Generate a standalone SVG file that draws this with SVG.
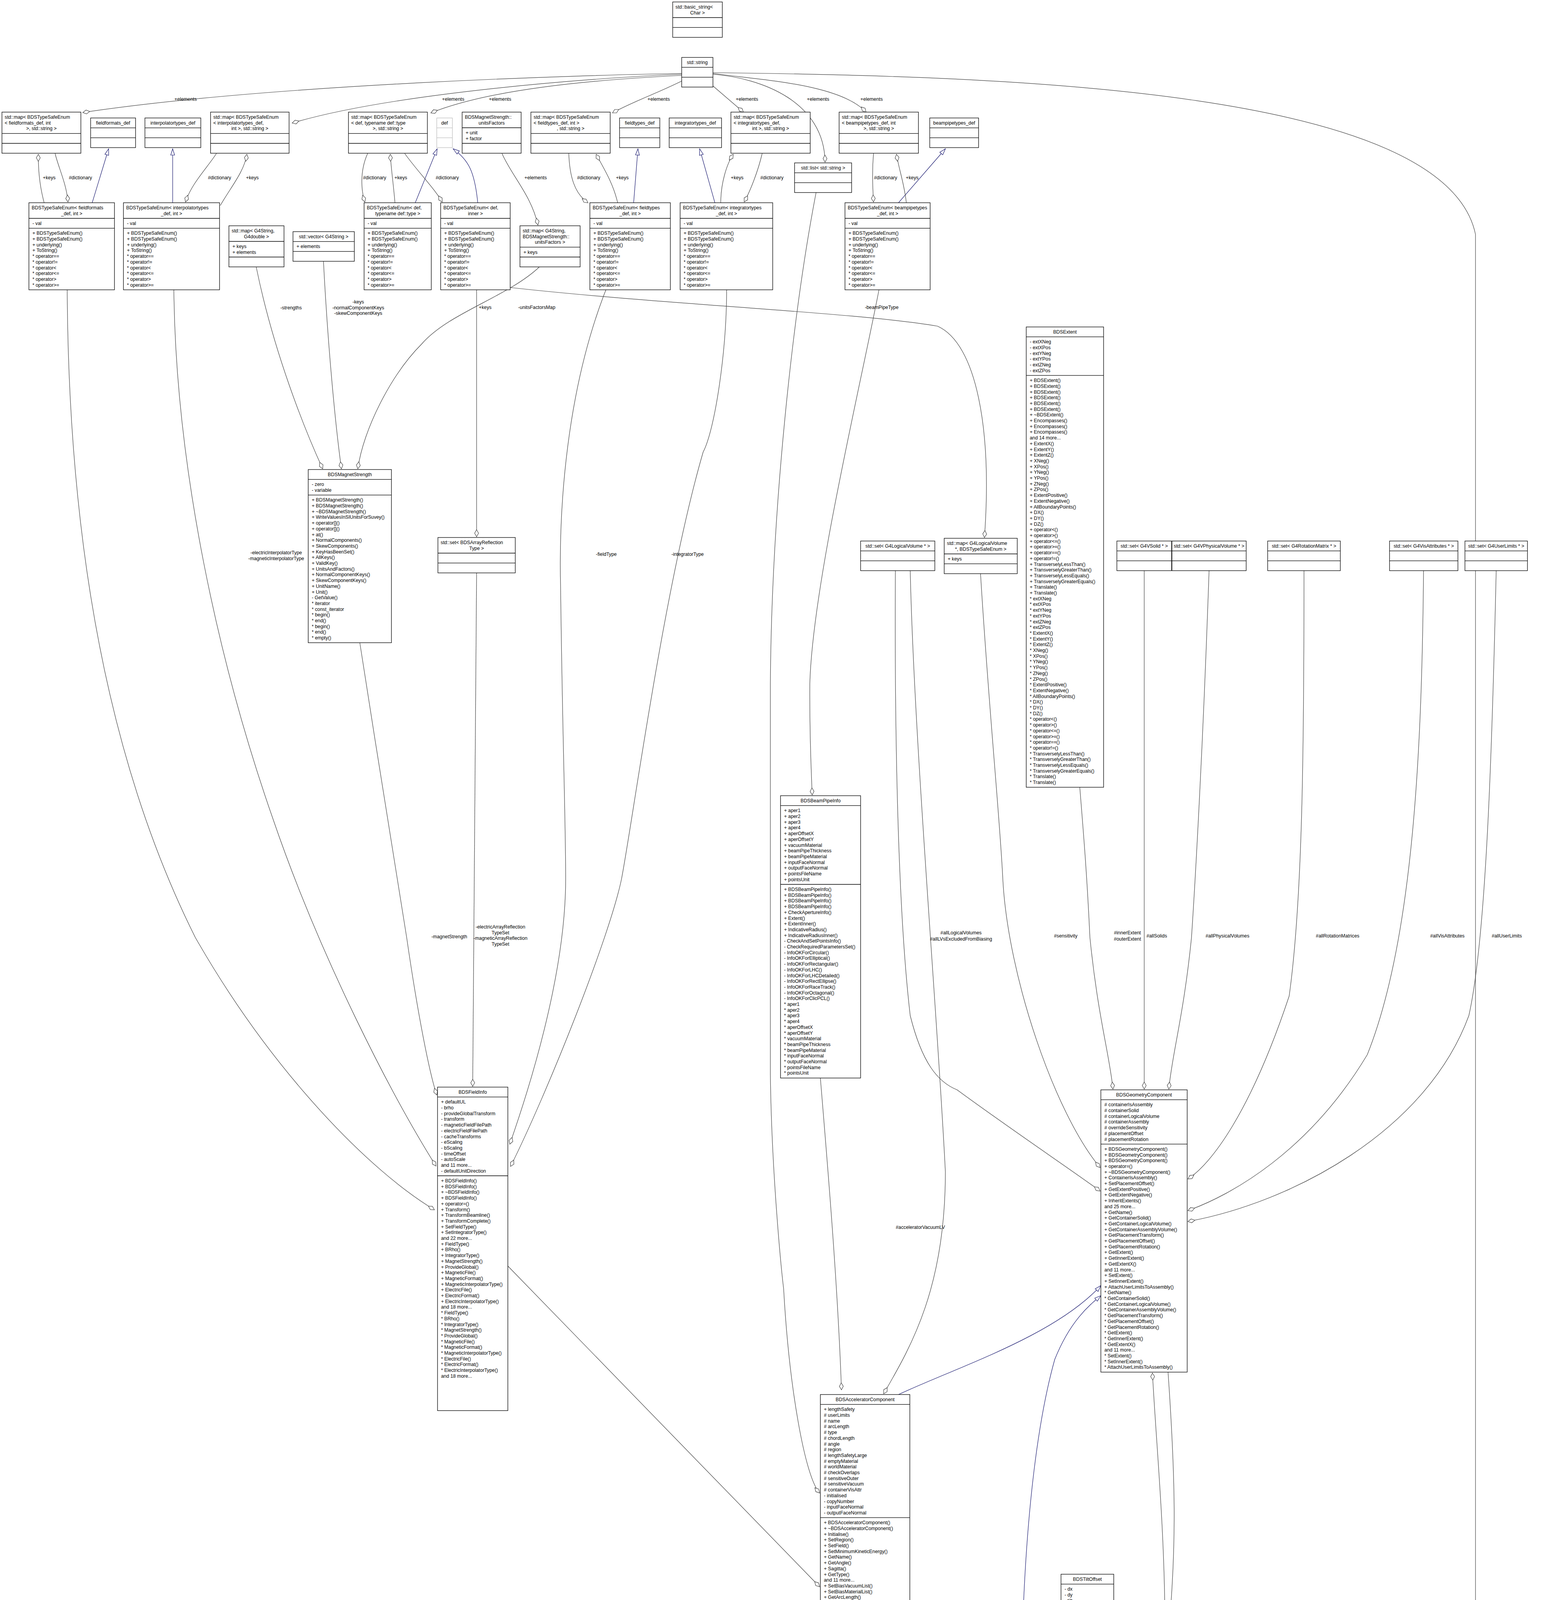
<svg xmlns="http://www.w3.org/2000/svg" width="4001" height="6897" viewBox="0 0 4001 6897">
<defs>
<style>
.n rect{fill:#fff;stroke:#000;stroke-width:1.3}
.n path{fill:none;stroke:#000;stroke-width:1.3}
.g rect{fill:#bfbfbf}
.gr rect,.gr path{stroke:#bfbfbf}
text{font-family:"Liberation Sans",Arial,Helvetica,sans-serif;font-size:12.3px;fill:#000}
.m{text-anchor:middle}
.e{fill:none;stroke:#404040;stroke-width:1.2;marker-end:url(#dia)}
.i{fill:none;stroke:#191970;stroke-width:1.2;marker-end:url(#tri)}
</style>
<marker id="dia" markerUnits="userSpaceOnUse" markerWidth="20" markerHeight="12" viewBox="0 0 20 12" refX="19" refY="6" orient="auto"><path d="M1,6 L10,1 L19,6 L10,11 Z" fill="#fff" stroke="#404040" stroke-width="1.2"/></marker>
<marker id="tri" markerUnits="userSpaceOnUse" markerWidth="18" markerHeight="12" viewBox="0 0 18 12" refX="17" refY="6" orient="auto"><path d="M1,1 L17,6 L1,11 Z" fill="#fff" stroke="#191970" stroke-width="1.2"/></marker>
</defs>
<rect width="4001" height="6897" fill="#fff"/>

<g id="edges">
<path class="e" d="M1745,188 C1500,192 700,215 212,288"/>
<path class="e" d="M1745,190 C1500,200 1000,240 748,315"/>
<path class="e" d="M1745,193 C1500,205 1250,230 1103,289"/>
<path class="e" d="M1748,206 C1680,240 1620,260 1568,289"/>
<path class="e" d="M1825,220 L1903,287"/>
<path class="e" d="M1825,188 C1950,205 2150,215 2217,287"/>
<path class="e" d="M1825,190 C1950,200 2110,260 2112,415"/>
<path class="e" d="M1825,186 C2600,195 3700,230 3777,600 L3777,6000 C3777,6400 3450,6530 3384,6600"/>
<path class="i" d="M236,519 L278,381"/>
<path class="i" d="M442,519 L442,381"/>
<path class="i" d="M1063,519 L1119,381"/>
<path class="i" d="M1223,519 C1215,440 1200,410 1160,381"/>
<path class="i" d="M1622,519 L1633,381"/>
<path class="i" d="M1830,519 L1791,381"/>
<path class="i" d="M2300,519 L2420,381"/>
<path class="i" d="M3300,5610 L3380,5499"/>
<path class="i" d="M2300,3570 C2450,3500 2700,3420 2818,3291"/>
<path class="i" d="M2628,4814 C2600,4400 2610,3800 2700,3480 C2740,3380 2790,3340 2818,3317"/>
<path class="i" d="M2235,5635 C2245,5300 2268,5000 2266,4795"/>
<path class="e" d="M113,519 C100,470 98,430 98,395"/>
<path class="e" d="M141,393 C150,430 170,470 174,517"/>
<path class="e" d="M564,526 C590,480 625,440 632,395"/>
<path class="e" d="M554,393 C530,430 490,470 475,517"/>
<path class="e" d="M941,393 C920,440 925,490 934,517"/>
<path class="e" d="M1011,519 C1008,480 1001,430 999,395"/>
<path class="e" d="M1036,393 C1070,440 1110,480 1132,517"/>
<path class="e" d="M1456,393 C1458,450 1470,495 1505,519"/>
<path class="e" d="M1581,519 C1570,470 1545,430 1526,395"/>
<path class="e" d="M1845,519 C1845,470 1860,420 1877,395"/>
<path class="e" d="M1951,393 C1940,440 1920,490 1905,517"/>
<path class="e" d="M2236,393 C2232,440 2234,480 2236,517"/>
<path class="e" d="M2320,519 C2315,470 2300,430 2295,395"/>
<path class="e" d="M3255,5833 C3260,6200 3270,6500 3288,6600"/>
<path class="e" d="M3304,6602 C3290,6300 3260,6000 3237,5835"/>
<path class="e" d="M1285,393 C1310,450 1360,500 1377,576"/>
<path class="e" d="M656,684 C700,900 780,1100 826,1200"/>
<path class="e" d="M828,669 C840,900 860,1100 874,1200"/>
<path class="e" d="M1381,683 C1300,760 1150,800 1080,880 C1000,960 930,1100 916,1200"/>
<path class="e" d="M1220,742 L1220,1374"/>
<path class="e" d="M1306,736 C1700,780 2200,800 2400,835 C2500,880 2540,1100 2520,1376"/>
<path class="e" d="M1220,1467 L1210,2781"/>
<path class="e" d="M921,1645 C960,1900 1010,2200 1041,2400 C1070,2600 1100,2750 1118,2803"/>
<path class="e" d="M445,742 C450,1200 560,1700 700,2100 C820,2450 1000,2800 1116,2985"/>
<path class="e" d="M172,742 C175,1300 250,1900 500,2400 C700,2750 950,3000 1112,3097"/>
<path class="e" d="M1551,742 C1450,1000 1430,1300 1435,1503 C1440,1900 1448,2100 1448,2250 C1448,2500 1350,2800 1305,2929"/>
<path class="e" d="M1860,742 C1860,900 1830,1100 1800,1157 C1700,1500 1620,2100 1591,2250 C1560,2400 1400,2800 1307,2986"/>
<path class="e" d="M2250,742 C2200,1000 2080,1500 2073,1750 C2072,1900 2078,2000 2079,2035"/>
<path class="e" d="M2089,493 C2030,800 1975,1300 1972,1750 L1972,2750 C1975,3000 2000,3250 2006,3300 C2020,3550 2060,3780 2098,3822"/>
<path class="e" d="M2100,2760 C2120,3000 2145,3300 2154,3558"/>
<path class="e" d="M1300,3241 L2098,4062"/>
<path class="e" d="M2510,1469 C2530,1800 2560,2100 2567,2250 C2580,2500 2700,2850 2816,2989"/>
<path class="e" d="M2764,2015 C2775,2150 2783,2250 2790,2400 C2810,2600 2840,2700 2849,2788"/>
<path class="e" d="M2292,1461 C2290,1800 2295,2300 2330,2600 C2360,2720 2400,2770 2450,2790 C2600,2900 2750,3000 2816,3049"/>
<path class="e" d="M2330,1461 C2340,1900 2400,2600 2420,3000 C2420,3300 2330,3450 2262,3568"/>
<path class="e" d="M2929,1461 L2929,2788"/>
<path class="e" d="M3095,1461 C3080,1900 3060,2250 3050,2400 C3030,2600 3000,2700 2992,2788"/>
<path class="e" d="M3338,1461 C3338,1900 3335,2300 3300,2550 C3200,2850 3100,2980 3041,3018"/>
<path class="e" d="M3644,1461 C3640,1900 3620,2400 3500,2700 C3350,2950 3150,3060 3041,3099"/>
<path class="e" d="M3830,1461 C3820,1900 3805,2400 3760,2600 C3650,2900 3300,3080 3041,3127"/>
<path class="e" d="M2288,4792 C2350,4900 2450,5000 2560,5060 C2620,5090 2670,5105 2696,5116"/>
<path class="e" d="M2787,4326 C2795,4700 2805,4950 2807,5105"/>
<path class="e" d="M2200,5635 C2180,5300 2150,5000 2148,4795"/>
<path class="e" d="M2982,4140 C2980,3900 2960,3700 2950,3515"/>
<path class="e" d="M2990,3513 C3010,3800 3010,3950 2995,4138"/>
<path class="e" d="M2625,5081 C2600,5400 2590,5900 2600,6100 C2615,6300 2640,6380 2646,6417"/>
<path class="e" d="M2742,6344 L2738,6417"/>
<path class="e" d="M2795,6344 C2810,6400 2900,6450 2933,6578"/>
<path class="e" d="M2941,6580 C2935,6500 2925,6420 2916,6346"/>
<path class="e" d="M3215,5833 C3150,6100 3050,6350 2984,6400 C2930,6415 2885,6412 2859,6423"/>
<path class="e" d="M3222,5833 C3170,6100 3100,6350 3002,6578"/>
</g>

<g id="labels">
<text class="m" x="475" y="258">+elements</text>
<text class="m" x="1160" y="258">+elements</text>
<text class="m" x="1280" y="258">+elements</text>
<text class="m" x="1686" y="258">+elements</text>
<text class="m" x="1912" y="258">+elements</text>
<text class="m" x="2094" y="258">+elements</text>
<text class="m" x="2231" y="258">+elements</text>
<text class="m" x="126" y="459">+keys</text>
<text class="m" x="206" y="459">#dictionary</text>
<text class="m" x="562" y="459">#dictionary</text>
<text class="m" x="646" y="459">+keys</text>
<text class="m" x="959" y="459">#dictionary</text>
<text class="m" x="1026" y="459">+keys</text>
<text class="m" x="1145" y="459">#dictionary</text>
<text class="m" x="1371" y="459">+elements</text>
<text class="m" x="1507" y="459">#dictionary</text>
<text class="m" x="1593" y="459">+keys</text>
<text class="m" x="1887" y="459">+keys</text>
<text class="m" x="1976" y="459">#dictionary</text>
<text class="m" x="2267" y="459">#dictionary</text>
<text class="m" x="2335" y="459">+keys</text>
<text class="m" x="745" y="792">-strengths</text>
<text class="m" x="917" y="777"><tspan x="917" dy="0">-keys</tspan><tspan x="917" dy="14.7">-normalComponentKeys</tspan><tspan x="917" dy="14.7">-skewComponentKeys</tspan></text>
<text class="m" x="1242" y="791">+keys</text>
<text class="m" x="1374" y="791">-unitsFactorsMap</text>
<text class="m" x="2257" y="791">-beamPipeType</text>
<text class="m" x="1552" y="1423">-fieldType</text>
<text class="m" x="1760" y="1423">-integratorType</text>
<text class="m" x="707" y="1419"><tspan x="707" dy="0">-electricInterpolatorType</tspan><tspan x="707" dy="14.7">-magneticInterpolatorType</tspan></text>
<text class="m" x="1281" y="2377"><tspan x="1281" dy="0">-electricArrayReflection</tspan><tspan x="1281" dy="14.7">TypeSet</tspan><tspan x="1281" dy="14.7">-magneticArrayReflection</tspan><tspan x="1281" dy="14.7">TypeSet</tspan></text>
<text class="m" x="1150" y="2402">-magnetStrength</text>
<text class="m" x="2460" y="2392"><tspan x="2460" dy="0">#allLogicalVolumes</tspan><tspan x="2460" dy="15.5">#allLVsExcludedFromBiasing</tspan></text>
<text class="m" x="2728" y="2400">#sensitivity</text>
<text class="m" x="2886" y="2392"><tspan x="2886" dy="0">#innerExtent</tspan><tspan x="2886" dy="15.5">#outerExtent</tspan></text>
<text class="m" x="2961" y="2400">#allSolids</text>
<text class="m" x="3142" y="2400">#allPhysicalVolumes</text>
<text class="m" x="3424" y="2400">#allRotationMatrices</text>
<text class="m" x="3705" y="2400">#allVisAttributes</text>
<text class="m" x="3857" y="2400">#allUserLimits</text>
<text x="2419" y="3146" text-anchor="end">#acceleratorVacuumLV</text>
<text class="m" x="2511" y="4950">-component</text>
<text class="m" x="2837" y="4950">-tiltOffset</text>
<text class="m" x="2218" y="4942"><tspan x="2218" dy="0">#endPieceAfter</tspan><tspan x="2218" dy="14.7">#endPieceBefore</tspan></text>
<text class="m" x="2660" y="5725">-sampler</text>
<text class="m" x="2770" y="6383">-element</text>
<text class="m" x="2868" y="6376"><tspan x="2868" dy="0">+finishElement</tspan><tspan x="2868" dy="14.7">+startElement</tspan></text>
<text class="m" x="2960" y="6383">-samplerInfo</text>
<text class="m" x="3048" y="6383">-type</text>
<text class="m" x="3141" y="6383">+samplerType</text>
<text class="m" x="3258" y="6383">+keys</text>
<text class="m" x="3319" y="6383">#dictionary</text>
<text class="m" x="3800" y="6383">+elements</text>
</g>

<g id="n_basic_string" class="n"><rect x="1722" y="5" width="127" height="90.6"/><path d="M1722 45h127M1722 70.3h127"/><text x="1729" y="22">std::basic_string&lt;</text><text class="m" x="1785.5" y="36.7">Char &gt;</text></g>
<g id="n_string" class="n"><rect x="1745" y="147" width="80" height="75.9"/><path d="M1745 172.3h80M1745 197.6h80"/><text class="m" x="1785" y="164">std::string</text></g>

<g id="n_map_fieldformats" class="n"><rect x="5" y="287" width="202" height="105.3"/><path d="M5 341.7h202M5 367h202"/><text x="12" y="304">std::map&lt; BDSTypeSafeEnum</text><text x="12" y="318.7">&lt; fieldformats_def, int</text><text class="m" x="106" y="333.4">&gt;, std::string &gt;</text></g>
<g id="n_fieldformats_def" class="n"><rect x="232" y="302" width="115" height="75.9"/><path d="M232 327.3h115M232 352.6h115"/><text class="m" x="289.5" y="319">fieldformats_def</text></g>
<g id="n_interpolatortypes_def" class="n"><rect x="371" y="302" width="143" height="75.9"/><path d="M371 327.3h143M371 352.6h143"/><text class="m" x="442.5" y="319">interpolatortypes_def</text></g>
<g id="n_map_interpolatortypes" class="n"><rect x="539" y="287" width="201" height="105.3"/><path d="M539 341.7h201M539 367h201"/><text x="546" y="304">std::map&lt; BDSTypeSafeEnum</text><text x="546" y="318.7">&lt; interpolatortypes_def,</text><text class="m" x="639.5" y="333.4">int &gt;, std::string &gt;</text></g>
<g id="n_map_def" class="n"><rect x="892" y="287" width="202" height="105.3"/><path d="M892 341.7h202M892 367h202"/><text x="899" y="304">std::map&lt; BDSTypeSafeEnum</text><text x="899" y="318.7">&lt; def, typename def::type</text><text class="m" x="993" y="333.4">&gt;, std::string &gt;</text></g>
<g id="n_def" class="n gr"><rect x="1118" y="302" width="40" height="75.9"/><path d="M1118 327.3h40M1118 352.6h40"/><text class="m" x="1138" y="319">def</text></g>
<g id="n_unitsFactors" class="n"><rect x="1183" y="287" width="151" height="105.3"/><path d="M1183 327h151M1183 367h151"/><text x="1190" y="304">BDSMagnetStrength::</text><text class="m" x="1258.5" y="318.7">unitsFactors</text><text x="1192" y="344"><tspan x="1192" dy="0">+ unit</tspan><tspan x="1192" dy="14.7">+ factor</tspan></text></g>
<g id="n_map_fieldtypes" class="n"><rect x="1359" y="287" width="203" height="105.3"/><path d="M1359 341.7h203M1359 367h203"/><text x="1366" y="304">std::map&lt; BDSTypeSafeEnum</text><text x="1366" y="318.7">&lt; fieldtypes_def, int &gt;</text><text class="m" x="1460.5" y="333.4">, std::string &gt;</text></g>
<g id="n_fieldtypes_def" class="n"><rect x="1586" y="302" width="103" height="75.9"/><path d="M1586 327.3h103M1586 352.6h103"/><text class="m" x="1637.5" y="319">fieldtypes_def</text></g>
<g id="n_integratortypes_def" class="n"><rect x="1713" y="302" width="134" height="75.9"/><path d="M1713 327.3h134M1713 352.6h134"/><text class="m" x="1780" y="319">integratortypes_def</text></g>
<g id="n_map_integratortypes" class="n"><rect x="1871" y="287" width="203" height="105.3"/><path d="M1871 341.7h203M1871 367h203"/><text x="1878" y="304">std::map&lt; BDSTypeSafeEnum</text><text x="1878" y="318.7">&lt; integratortypes_def,</text><text class="m" x="1972.5" y="333.4">int &gt;, std::string &gt;</text></g>
<g id="n_map_beampipetypes" class="n"><rect x="2148" y="287" width="203" height="105.3"/><path d="M2148 341.7h203M2148 367h203"/><text x="2155" y="304">std::map&lt; BDSTypeSafeEnum</text><text x="2155" y="318.7">&lt; beampipetypes_def, int</text><text class="m" x="2249.5" y="333.4">&gt;, std::string &gt;</text></g>
<g id="n_beampipetypes_def" class="n"><rect x="2380" y="302" width="125" height="75.9"/><path d="M2380 327.3h125M2380 352.6h125"/><text class="m" x="2442.5" y="319">beampipetypes_def</text></g>
<g id="n_list_string" class="n"><rect x="2034" y="417" width="146" height="75.9"/><path d="M2034 442.3h146M2034 467.6h146"/><text class="m" x="2107" y="434">std::list&lt; std::string &gt;</text></g>

<g id="n_tse_fieldformats" class="n"><rect x="74" y="519" width="219" height="222.9"/><path d="M74 559h219M74 584.3h219"/><text x="81" y="536">BDSTypeSafeEnum&lt; fieldformats</text><text class="m" x="183.5" y="550.7">_def, int &gt;</text><text x="83" y="576">- val</text><text x="83" y="601.3"><tspan x="83" dy="0">+ BDSTypeSafeEnum()</tspan><tspan x="83" dy="14.7">+ BDSTypeSafeEnum()</tspan><tspan x="83" dy="14.7">+ underlying()</tspan><tspan x="83" dy="14.7">+ ToString()</tspan><tspan x="83" dy="14.7">* operator==</tspan><tspan x="83" dy="14.7">* operator!=</tspan><tspan x="83" dy="14.7">* operator&lt;</tspan><tspan x="83" dy="14.7">* operator&lt;=</tspan><tspan x="83" dy="14.7">* operator&gt;</tspan><tspan x="83" dy="14.7">* operator&gt;=</tspan></text></g>
<g id="n_tse_interpolatortypes" class="n"><rect x="316" y="519" width="246" height="222.9"/><path d="M316 559h246M316 584.3h246"/><text x="323" y="536">BDSTypeSafeEnum&lt; interpolatortypes</text><text class="m" x="439" y="550.7">_def, int &gt;</text><text x="325" y="576">- val</text><text x="325" y="601.3"><tspan x="325" dy="0">+ BDSTypeSafeEnum()</tspan><tspan x="325" dy="14.7">+ BDSTypeSafeEnum()</tspan><tspan x="325" dy="14.7">+ underlying()</tspan><tspan x="325" dy="14.7">+ ToString()</tspan><tspan x="325" dy="14.7">* operator==</tspan><tspan x="325" dy="14.7">* operator!=</tspan><tspan x="325" dy="14.7">* operator&lt;</tspan><tspan x="325" dy="14.7">* operator&lt;=</tspan><tspan x="325" dy="14.7">* operator&gt;</tspan><tspan x="325" dy="14.7">* operator&gt;=</tspan></text></g>
<g id="n_tse_def_type" class="n"><rect x="932" y="519" width="172" height="222.9"/><path d="M932 559h172M932 584.3h172"/><text x="939" y="536">BDSTypeSafeEnum&lt; def,</text><text class="m" x="1018" y="550.7">typename def::type &gt;</text><text x="941" y="576">- val</text><text x="941" y="601.3"><tspan x="941" dy="0">+ BDSTypeSafeEnum()</tspan><tspan x="941" dy="14.7">+ BDSTypeSafeEnum()</tspan><tspan x="941" dy="14.7">+ underlying()</tspan><tspan x="941" dy="14.7">+ ToString()</tspan><tspan x="941" dy="14.7">* operator==</tspan><tspan x="941" dy="14.7">* operator!=</tspan><tspan x="941" dy="14.7">* operator&lt;</tspan><tspan x="941" dy="14.7">* operator&lt;=</tspan><tspan x="941" dy="14.7">* operator&gt;</tspan><tspan x="941" dy="14.7">* operator&gt;=</tspan></text></g>
<g id="n_tse_def_inner" class="n"><rect x="1128" y="519" width="178" height="222.9"/><path d="M1128 559h178M1128 584.3h178"/><text x="1135" y="536">BDSTypeSafeEnum&lt; def,</text><text class="m" x="1217" y="550.7">inner &gt;</text><text x="1137" y="576">- val</text><text x="1137" y="601.3"><tspan x="1137" dy="0">+ BDSTypeSafeEnum()</tspan><tspan x="1137" dy="14.7">+ BDSTypeSafeEnum()</tspan><tspan x="1137" dy="14.7">+ underlying()</tspan><tspan x="1137" dy="14.7">+ ToString()</tspan><tspan x="1137" dy="14.7">* operator==</tspan><tspan x="1137" dy="14.7">* operator!=</tspan><tspan x="1137" dy="14.7">* operator&lt;</tspan><tspan x="1137" dy="14.7">* operator&lt;=</tspan><tspan x="1137" dy="14.7">* operator&gt;</tspan><tspan x="1137" dy="14.7">* operator&gt;=</tspan></text></g>
<g id="n_tse_fieldtypes" class="n"><rect x="1510" y="519" width="206" height="222.9"/><path d="M1510 559h206M1510 584.3h206"/><text x="1517" y="536">BDSTypeSafeEnum&lt; fieldtypes</text><text class="m" x="1613" y="550.7">_def, int &gt;</text><text x="1519" y="576">- val</text><text x="1519" y="601.3"><tspan x="1519" dy="0">+ BDSTypeSafeEnum()</tspan><tspan x="1519" dy="14.7">+ BDSTypeSafeEnum()</tspan><tspan x="1519" dy="14.7">+ underlying()</tspan><tspan x="1519" dy="14.7">+ ToString()</tspan><tspan x="1519" dy="14.7">* operator==</tspan><tspan x="1519" dy="14.7">* operator!=</tspan><tspan x="1519" dy="14.7">* operator&lt;</tspan><tspan x="1519" dy="14.7">* operator&lt;=</tspan><tspan x="1519" dy="14.7">* operator&gt;</tspan><tspan x="1519" dy="14.7">* operator&gt;=</tspan></text></g>
<g id="n_tse_integratortypes" class="n"><rect x="1741" y="519" width="237" height="222.9"/><path d="M1741 559h237M1741 584.3h237"/><text x="1748" y="536">BDSTypeSafeEnum&lt; integratortypes</text><text class="m" x="1859.5" y="550.7">_def, int &gt;</text><text x="1750" y="576">- val</text><text x="1750" y="601.3"><tspan x="1750" dy="0">+ BDSTypeSafeEnum()</tspan><tspan x="1750" dy="14.7">+ BDSTypeSafeEnum()</tspan><tspan x="1750" dy="14.7">+ underlying()</tspan><tspan x="1750" dy="14.7">+ ToString()</tspan><tspan x="1750" dy="14.7">* operator==</tspan><tspan x="1750" dy="14.7">* operator!=</tspan><tspan x="1750" dy="14.7">* operator&lt;</tspan><tspan x="1750" dy="14.7">* operator&lt;=</tspan><tspan x="1750" dy="14.7">* operator&gt;</tspan><tspan x="1750" dy="14.7">* operator&gt;=</tspan></text></g>
<g id="n_tse_beampipetypes" class="n"><rect x="2163" y="519" width="218" height="222.9"/><path d="M2163 559h218M2163 584.3h218"/><text x="2170" y="536">BDSTypeSafeEnum&lt; beampipetypes</text><text class="m" x="2272" y="550.7">_def, int &gt;</text><text x="2172" y="576">- val</text><text x="2172" y="601.3"><tspan x="2172" dy="0">+ BDSTypeSafeEnum()</tspan><tspan x="2172" dy="14.7">+ BDSTypeSafeEnum()</tspan><tspan x="2172" dy="14.7">+ underlying()</tspan><tspan x="2172" dy="14.7">+ ToString()</tspan><tspan x="2172" dy="14.7">* operator==</tspan><tspan x="2172" dy="14.7">* operator!=</tspan><tspan x="2172" dy="14.7">* operator&lt;</tspan><tspan x="2172" dy="14.7">* operator&lt;=</tspan><tspan x="2172" dy="14.7">* operator&gt;</tspan><tspan x="2172" dy="14.7">* operator&gt;=</tspan></text></g>

<g id="n_map_g4double" class="n"><rect x="586" y="578" width="141" height="105.3"/><path d="M586 618h141M586 658h141"/><text x="593" y="595">std::map&lt; G4String,</text><text class="m" x="656.5" y="609.7">G4double &gt;</text><text x="595" y="635"><tspan x="595" dy="0">+ keys</tspan><tspan x="595" dy="14.7">+ elements</tspan></text></g>
<g id="n_vector_g4string" class="n"><rect x="750" y="593" width="157" height="75.9"/><path d="M750 618.3h157M750 643.6h157"/><text class="m" x="828.5" y="610">std::vector&lt; G4String &gt;</text><text x="759" y="635.3">+ elements</text></g>
<g id="n_map_unitsFactors" class="n"><rect x="1331" y="578" width="154" height="105.3"/><path d="M1331 632.7h154M1331 658h154"/><text x="1338" y="595">std::map&lt; G4String,</text><text x="1338" y="609.7">BDSMagnetStrength::</text><text class="m" x="1408" y="624.4">unitsFactors &gt;</text><text x="1340" y="649.7">+ keys</text></g>

<g id="n_BDSMagnetStrength" class="n"><rect x="789" y="1202" width="213" height="443.4"/><path d="M789 1227.3h213M789 1267.3h213"/><text class="m" x="895.5" y="1219">BDSMagnetStrength</text><text x="798" y="1244.3"><tspan x="798" dy="0">- zero</tspan><tspan x="798" dy="14.7">- variable</tspan></text><text x="798" y="1284.3"><tspan x="798" dy="0">+ BDSMagnetStrength()</tspan><tspan x="798" dy="14.7">+ BDSMagnetStrength()</tspan><tspan x="798" dy="14.7">+ ~BDSMagnetStrength()</tspan><tspan x="798" dy="14.7">+ WriteValuesInSIUnitsForSuvey()</tspan><tspan x="798" dy="14.7">+ operator[]()</tspan><tspan x="798" dy="14.7">+ operator[]()</tspan><tspan x="798" dy="14.7">+ at()</tspan><tspan x="798" dy="14.7">+ NormalComponents()</tspan><tspan x="798" dy="14.7">+ SkewComponents()</tspan><tspan x="798" dy="14.7">+ KeyHasBeenSet()</tspan><tspan x="798" dy="14.7">+ AllKeys()</tspan><tspan x="798" dy="14.7">+ ValidKey()</tspan><tspan x="798" dy="14.7">+ UnitsAndFactors()</tspan><tspan x="798" dy="14.7">+ NormalComponentKeys()</tspan><tspan x="798" dy="14.7">+ SkewComponentKeys()</tspan><tspan x="798" dy="14.7">+ UnitName()</tspan><tspan x="798" dy="14.7">+ Unit()</tspan><tspan x="798" dy="14.7">- GetValue()</tspan><tspan x="798" dy="14.7">* iterator</tspan><tspan x="798" dy="14.7">* const_iterator</tspan><tspan x="798" dy="14.7">* begin()</tspan><tspan x="798" dy="14.7">* end()</tspan><tspan x="798" dy="14.7">* begin()</tspan><tspan x="798" dy="14.7">* end()</tspan><tspan x="798" dy="14.7">* empty()</tspan></text></g>

<g id="n_set_arrayreflection" class="n"><rect x="1121" y="1376" width="198" height="90.6"/><path d="M1121 1416h198M1121 1441.3h198"/><text x="1128" y="1393">std::set&lt; BDSArrayReflection</text><text class="m" x="1220" y="1407.7">Type &gt;</text></g>
<g id="n_set_lv" class="n"><rect x="2203" y="1385" width="190" height="75.9"/><path d="M2203 1410.3h190M2203 1435.6h190"/><text class="m" x="2298" y="1402">std::set&lt; G4LogicalVolume * &gt;</text></g>
<g id="n_map_lv" class="n"><rect x="2417" y="1378" width="187" height="90.6"/><path d="M2417 1418h187M2417 1443.3h187"/><text x="2424" y="1395">std::map&lt; G4LogicalVolume</text><text class="m" x="2510.5" y="1409.7">*, BDSTypeSafeEnum &gt;</text><text x="2426" y="1435">+ keys</text></g>
<g id="n_set_solid" class="n"><rect x="2859" y="1385" width="140" height="75.9"/><path d="M2859 1410.3h140M2859 1435.6h140"/><text class="m" x="2929" y="1402">std::set&lt; G4VSolid * &gt;</text></g>
<g id="n_set_pv" class="n"><rect x="3000" y="1385" width="190" height="75.9"/><path d="M3000 1410.3h190M3000 1435.6h190"/><text class="m" x="3095" y="1402">std::set&lt; G4VPhysicalVolume * &gt;</text></g>
<g id="n_set_rot" class="n"><rect x="3245" y="1385" width="186" height="75.9"/><path d="M3245 1410.3h186M3245 1435.6h186"/><text class="m" x="3338" y="1402">std::set&lt; G4RotationMatrix * &gt;</text></g>
<g id="n_set_vis" class="n"><rect x="3557" y="1385" width="175" height="75.9"/><path d="M3557 1410.3h175M3557 1435.6h175"/><text class="m" x="3644.5" y="1402">std::set&lt; G4VisAttributes * &gt;</text></g>
<g id="n_set_ul" class="n"><rect x="3750" y="1385" width="160" height="75.9"/><path d="M3750 1410.3h160M3750 1435.6h160"/><text class="m" x="3830" y="1402">std::set&lt; G4UserLimits * &gt;</text></g>

<g id="n_BDSExtent" class="n"><rect x="2627" y="837" width="198" height="1178.4"/><path d="M2627 862.3h198M2627 961.1h198"/><text class="m" x="2726" y="854">BDSExtent</text><text x="2636" y="879.3"><tspan x="2636" dy="0">- extXNeg</tspan><tspan x="2636" dy="14.7">- extXPos</tspan><tspan x="2636" dy="14.7">- extYNeg</tspan><tspan x="2636" dy="14.7">- extYPos</tspan><tspan x="2636" dy="14.7">- extZNeg</tspan><tspan x="2636" dy="14.7">- extZPos</tspan></text><text x="2636" y="978.1"><tspan x="2636" dy="0">+ BDSExtent()</tspan><tspan x="2636" dy="14.7">+ BDSExtent()</tspan><tspan x="2636" dy="14.7">+ BDSExtent()</tspan><tspan x="2636" dy="14.7">+ BDSExtent()</tspan><tspan x="2636" dy="14.7">+ BDSExtent()</tspan><tspan x="2636" dy="14.7">+ BDSExtent()</tspan><tspan x="2636" dy="14.7">+ ~BDSExtent()</tspan><tspan x="2636" dy="14.7">+ Encompasses()</tspan><tspan x="2636" dy="14.7">+ Encompasses()</tspan><tspan x="2636" dy="14.7">+ Encompasses()</tspan><tspan x="2636" dy="14.7">and 14 more...</tspan><tspan x="2636" dy="14.7">+ ExtentX()</tspan><tspan x="2636" dy="14.7">+ ExtentY()</tspan><tspan x="2636" dy="14.7">+ ExtentZ()</tspan><tspan x="2636" dy="14.7">+ XNeg()</tspan><tspan x="2636" dy="14.7">+ XPos()</tspan><tspan x="2636" dy="14.7">+ YNeg()</tspan><tspan x="2636" dy="14.7">+ YPos()</tspan><tspan x="2636" dy="14.7">+ ZNeg()</tspan><tspan x="2636" dy="14.7">+ ZPos()</tspan><tspan x="2636" dy="14.7">+ ExtentPositive()</tspan><tspan x="2636" dy="14.7">+ ExtentNegative()</tspan><tspan x="2636" dy="14.7">+ AllBoundaryPoints()</tspan><tspan x="2636" dy="14.7">+ DX()</tspan><tspan x="2636" dy="14.7">+ DY()</tspan><tspan x="2636" dy="14.7">+ DZ()</tspan><tspan x="2636" dy="14.7">+ operator&lt;()</tspan><tspan x="2636" dy="14.7">+ operator&gt;()</tspan><tspan x="2636" dy="14.7">+ operator&lt;=()</tspan><tspan x="2636" dy="14.7">+ operator&gt;=()</tspan><tspan x="2636" dy="14.7">+ operator==()</tspan><tspan x="2636" dy="14.7">+ operator!=()</tspan><tspan x="2636" dy="14.7">+ TransverselyLessThan()</tspan><tspan x="2636" dy="14.7">+ TransverselyGreaterThan()</tspan><tspan x="2636" dy="14.7">+ TransverselyLessEquals()</tspan><tspan x="2636" dy="14.7">+ TransverselyGreaterEquals()</tspan><tspan x="2636" dy="14.7">+ Translate()</tspan><tspan x="2636" dy="14.7">+ Translate()</tspan><tspan x="2636" dy="14.7">* extXNeg</tspan><tspan x="2636" dy="14.7">* extXPos</tspan><tspan x="2636" dy="14.7">* extYNeg</tspan><tspan x="2636" dy="14.7">* extYPos</tspan><tspan x="2636" dy="14.7">* extZNeg</tspan><tspan x="2636" dy="14.7">* extZPos</tspan><tspan x="2636" dy="14.7">* ExtentX()</tspan><tspan x="2636" dy="14.7">* ExtentY()</tspan><tspan x="2636" dy="14.7">* ExtentZ()</tspan><tspan x="2636" dy="14.7">* XNeg()</tspan><tspan x="2636" dy="14.7">* XPos()</tspan><tspan x="2636" dy="14.7">* YNeg()</tspan><tspan x="2636" dy="14.7">* YPos()</tspan><tspan x="2636" dy="14.7">* ZNeg()</tspan><tspan x="2636" dy="14.7">* ZPos()</tspan><tspan x="2636" dy="14.7">* ExtentPositive()</tspan><tspan x="2636" dy="14.7">* ExtentNegative()</tspan><tspan x="2636" dy="14.7">* AllBoundaryPoints()</tspan><tspan x="2636" dy="14.7">* DX()</tspan><tspan x="2636" dy="14.7">* DY()</tspan><tspan x="2636" dy="14.7">* DZ()</tspan><tspan x="2636" dy="14.7">* operator&lt;()</tspan><tspan x="2636" dy="14.7">* operator&gt;()</tspan><tspan x="2636" dy="14.7">* operator&lt;=()</tspan><tspan x="2636" dy="14.7">* operator&gt;=()</tspan><tspan x="2636" dy="14.7">* operator==()</tspan><tspan x="2636" dy="14.7">* operator!=()</tspan><tspan x="2636" dy="14.7">* TransverselyLessThan()</tspan><tspan x="2636" dy="14.7">* TransverselyGreaterThan()</tspan><tspan x="2636" dy="14.7">* TransverselyLessEquals()</tspan><tspan x="2636" dy="14.7">* TransverselyGreaterEquals()</tspan><tspan x="2636" dy="14.7">* Translate()</tspan><tspan x="2636" dy="14.7">* Translate()</tspan></text></g>

<g id="n_BDSBeamPipeInfo" class="n"><rect x="1998" y="2037" width="205" height="722.7"/><path d="M1998 2062.3h205M1998 2264h205"/><text class="m" x="2100.5" y="2054">BDSBeamPipeInfo</text><text x="2007" y="2079.3"><tspan x="2007" dy="0">+ aper1</tspan><tspan x="2007" dy="14.7">+ aper2</tspan><tspan x="2007" dy="14.7">+ aper3</tspan><tspan x="2007" dy="14.7">+ aper4</tspan><tspan x="2007" dy="14.7">+ aperOffsetX</tspan><tspan x="2007" dy="14.7">+ aperOffsetY</tspan><tspan x="2007" dy="14.7">+ vacuumMaterial</tspan><tspan x="2007" dy="14.7">+ beamPipeThickness</tspan><tspan x="2007" dy="14.7">+ beamPipeMaterial</tspan><tspan x="2007" dy="14.7">+ inputFaceNormal</tspan><tspan x="2007" dy="14.7">+ outputFaceNormal</tspan><tspan x="2007" dy="14.7">+ pointsFileName</tspan><tspan x="2007" dy="14.7">+ pointsUnit</tspan></text><text x="2007" y="2281"><tspan x="2007" dy="0">+ BDSBeamPipeInfo()</tspan><tspan x="2007" dy="14.7">+ BDSBeamPipeInfo()</tspan><tspan x="2007" dy="14.7">+ BDSBeamPipeInfo()</tspan><tspan x="2007" dy="14.7">+ BDSBeamPipeInfo()</tspan><tspan x="2007" dy="14.7">+ CheckApertureInfo()</tspan><tspan x="2007" dy="14.7">+ Extent()</tspan><tspan x="2007" dy="14.7">+ ExtentInner()</tspan><tspan x="2007" dy="14.7">+ IndicativeRadius()</tspan><tspan x="2007" dy="14.7">+ IndicativeRadiusInner()</tspan><tspan x="2007" dy="14.7">- CheckAndSetPointsInfo()</tspan><tspan x="2007" dy="14.7">- CheckRequiredParametersSet()</tspan><tspan x="2007" dy="14.7">- InfoOKForCircular()</tspan><tspan x="2007" dy="14.7">- InfoOKForElliptical()</tspan><tspan x="2007" dy="14.7">- InfoOKForRectangular()</tspan><tspan x="2007" dy="14.7">- InfoOKForLHC()</tspan><tspan x="2007" dy="14.7">- InfoOKForLHCDetailed()</tspan><tspan x="2007" dy="14.7">- InfoOKForRectEllipse()</tspan><tspan x="2007" dy="14.7">- InfoOKForRaceTrack()</tspan><tspan x="2007" dy="14.7">- InfoOKForOctagonal()</tspan><tspan x="2007" dy="14.7">- InfoOKForClicPCL()</tspan><tspan x="2007" dy="14.7">* aper1</tspan><tspan x="2007" dy="14.7">* aper2</tspan><tspan x="2007" dy="14.7">* aper3</tspan><tspan x="2007" dy="14.7">* aper4</tspan><tspan x="2007" dy="14.7">* aperOffsetX</tspan><tspan x="2007" dy="14.7">* aperOffsetY</tspan><tspan x="2007" dy="14.7">* vacuumMaterial</tspan><tspan x="2007" dy="14.7">* beamPipeThickness</tspan><tspan x="2007" dy="14.7">* beamPipeMaterial</tspan><tspan x="2007" dy="14.7">* inputFaceNormal</tspan><tspan x="2007" dy="14.7">* outputFaceNormal</tspan><tspan x="2007" dy="14.7">* pointsFileName</tspan><tspan x="2007" dy="14.7">* pointsUnit</tspan></text></g>

<g id="n_BDSFieldInfo" class="n"><rect x="1120" y="2783" width="180" height="828.2"/><path d="M1120 2808.3h180M1120 3010h180"/><text class="m" x="1210" y="2800">BDSFieldInfo</text><text x="1129" y="2825.3"><tspan x="1129" dy="0">+ defaultUL</tspan><tspan x="1129" dy="14.7">- brho</tspan><tspan x="1129" dy="14.7">- provideGlobalTransform</tspan><tspan x="1129" dy="14.7">- transform</tspan><tspan x="1129" dy="14.7">- magneticFieldFilePath</tspan><tspan x="1129" dy="14.7">- electricFieldFilePath</tspan><tspan x="1129" dy="14.7">- cacheTransforms</tspan><tspan x="1129" dy="14.7">- eScaling</tspan><tspan x="1129" dy="14.7">- bScaling</tspan><tspan x="1129" dy="14.7">- timeOffset</tspan><tspan x="1129" dy="14.7">- autoScale</tspan><tspan x="1129" dy="14.7">and 11 more...</tspan><tspan x="1129" dy="14.7">- defaultUnitDirection</tspan></text><text x="1129" y="3027"><tspan x="1129" dy="0">+ BDSFieldInfo()</tspan><tspan x="1129" dy="14.7">+ BDSFieldInfo()</tspan><tspan x="1129" dy="14.7">+ ~BDSFieldInfo()</tspan><tspan x="1129" dy="14.7">+ BDSFieldInfo()</tspan><tspan x="1129" dy="14.7">+ operator=()</tspan><tspan x="1129" dy="14.7">+ Transform()</tspan><tspan x="1129" dy="14.7">+ TransformBeamline()</tspan><tspan x="1129" dy="14.7">+ TransformComplete()</tspan><tspan x="1129" dy="14.7">+ SetFieldType()</tspan><tspan x="1129" dy="14.7">+ SetIntegratorType()</tspan><tspan x="1129" dy="14.7">and 22 more...</tspan><tspan x="1129" dy="14.7">+ FieldType()</tspan><tspan x="1129" dy="14.7">+ BRho()</tspan><tspan x="1129" dy="14.7">+ IntegratorType()</tspan><tspan x="1129" dy="14.7">+ MagnetStrength()</tspan><tspan x="1129" dy="14.7">+ ProvideGlobal()</tspan><tspan x="1129" dy="14.7">+ MagneticFile()</tspan><tspan x="1129" dy="14.7">+ MagneticFormat()</tspan><tspan x="1129" dy="14.7">+ MagneticInterpolatorType()</tspan><tspan x="1129" dy="14.7">+ ElectricFile()</tspan><tspan x="1129" dy="14.7">+ ElectricFormat()</tspan><tspan x="1129" dy="14.7">+ ElectricInterpolatorType()</tspan><tspan x="1129" dy="14.7">and 18 more...</tspan><tspan x="1129" dy="14.7">* FieldType()</tspan><tspan x="1129" dy="14.7">* BRho()</tspan><tspan x="1129" dy="14.7">* IntegratorType()</tspan><tspan x="1129" dy="14.7">* MagnetStrength()</tspan><tspan x="1129" dy="14.7">* ProvideGlobal()</tspan><tspan x="1129" dy="14.7">* MagneticFile()</tspan><tspan x="1129" dy="14.7">* MagneticFormat()</tspan><tspan x="1129" dy="14.7">* MagneticInterpolatorType()</tspan><tspan x="1129" dy="14.7">* ElectricFile()</tspan><tspan x="1129" dy="14.7">* ElectricFormat()</tspan><tspan x="1129" dy="14.7">* ElectricInterpolatorType()</tspan><tspan x="1129" dy="14.7">and 18 more...</tspan></text></g>

<g id="n_BDSGeometryComponent" class="n"><rect x="2818" y="2790" width="221" height="722.6"/><path d="M2818 2815.3h221M2818 2928.8h221"/><text class="m" x="2928.5" y="2807">BDSGeometryComponent</text><text x="2827" y="2832.3"><tspan x="2827" dy="0"># containerIsAssembly</tspan><tspan x="2827" dy="14.7"># containerSolid</tspan><tspan x="2827" dy="14.7"># containerLogicalVolume</tspan><tspan x="2827" dy="14.7"># containerAssembly</tspan><tspan x="2827" dy="14.7"># overrideSensitivity</tspan><tspan x="2827" dy="14.7"># placementOffset</tspan><tspan x="2827" dy="14.7"># placementRotation</tspan></text><text x="2827" y="2945.8"><tspan x="2827" dy="0">+ BDSGeometryComponent()</tspan><tspan x="2827" dy="14.7">+ BDSGeometryComponent()</tspan><tspan x="2827" dy="14.7">+ BDSGeometryComponent()</tspan><tspan x="2827" dy="14.7">+ operator=()</tspan><tspan x="2827" dy="14.7">+ ~BDSGeometryComponent()</tspan><tspan x="2827" dy="14.7">+ ContainerIsAssembly()</tspan><tspan x="2827" dy="14.7">+ SetPlacementOffset()</tspan><tspan x="2827" dy="14.7">+ GetExtentPositive()</tspan><tspan x="2827" dy="14.7">+ GetExtentNegative()</tspan><tspan x="2827" dy="14.7">+ InheritExtents()</tspan><tspan x="2827" dy="14.7">and 25 more...</tspan><tspan x="2827" dy="14.7">+ GetName()</tspan><tspan x="2827" dy="14.7">+ GetContainerSolid()</tspan><tspan x="2827" dy="14.7">+ GetContainerLogicalVolume()</tspan><tspan x="2827" dy="14.7">+ GetContainerAssemblyVolume()</tspan><tspan x="2827" dy="14.7">+ GetPlacementTransform()</tspan><tspan x="2827" dy="14.7">+ GetPlacementOffset()</tspan><tspan x="2827" dy="14.7">+ GetPlacementRotation()</tspan><tspan x="2827" dy="14.7">+ GetExtent()</tspan><tspan x="2827" dy="14.7">+ GetInnerExtent()</tspan><tspan x="2827" dy="14.7">+ GetExtentX()</tspan><tspan x="2827" dy="14.7">and 11 more...</tspan><tspan x="2827" dy="14.7">+ SetExtent()</tspan><tspan x="2827" dy="14.7">+ SetInnerExtent()</tspan><tspan x="2827" dy="14.7">+ AttachUserLimitsToAssembly()</tspan><tspan x="2827" dy="14.7">* GetName()</tspan><tspan x="2827" dy="14.7">* GetContainerSolid()</tspan><tspan x="2827" dy="14.7">* GetContainerLogicalVolume()</tspan><tspan x="2827" dy="14.7">* GetContainerAssemblyVolume()</tspan><tspan x="2827" dy="14.7">* GetPlacementTransform()</tspan><tspan x="2827" dy="14.7">* GetPlacementOffset()</tspan><tspan x="2827" dy="14.7">* GetPlacementRotation()</tspan><tspan x="2827" dy="14.7">* GetExtent()</tspan><tspan x="2827" dy="14.7">* GetInnerExtent()</tspan><tspan x="2827" dy="14.7">* GetExtentX()</tspan><tspan x="2827" dy="14.7">and 11 more...</tspan><tspan x="2827" dy="14.7">* SetExtent()</tspan><tspan x="2827" dy="14.7">* SetInnerExtent()</tspan><tspan x="2827" dy="14.7">* AttachUserLimitsToAssembly()</tspan></text></g>

<g id="n_BDSAcceleratorComponent" class="n"><rect x="2100" y="3570" width="229" height="1222.5"/><path d="M2100 3595.3h229M2100 3885.2h229"/><text class="m" x="2214.5" y="3587">BDSAcceleratorComponent</text><text x="2109" y="3612.3"><tspan x="2109" dy="0">+ lengthSafety</tspan><tspan x="2109" dy="14.7"># userLimits</tspan><tspan x="2109" dy="14.7"># name</tspan><tspan x="2109" dy="14.7"># arcLength</tspan><tspan x="2109" dy="14.7"># type</tspan><tspan x="2109" dy="14.7"># chordLength</tspan><tspan x="2109" dy="14.7"># angle</tspan><tspan x="2109" dy="14.7"># region</tspan><tspan x="2109" dy="14.7"># lengthSafetyLarge</tspan><tspan x="2109" dy="14.7"># emptyMaterial</tspan><tspan x="2109" dy="14.7"># worldMaterial</tspan><tspan x="2109" dy="14.7"># checkOverlaps</tspan><tspan x="2109" dy="14.7"># sensitiveOuter</tspan><tspan x="2109" dy="14.7"># sensitiveVacuum</tspan><tspan x="2109" dy="14.7"># containerVisAttr</tspan><tspan x="2109" dy="14.7">- initialised</tspan><tspan x="2109" dy="14.7">- copyNumber</tspan><tspan x="2109" dy="14.7">- inputFaceNormal</tspan><tspan x="2109" dy="14.7">- outputFaceNormal</tspan></text><text x="2109" y="3902.2"><tspan x="2109" dy="0">+ BDSAcceleratorComponent()</tspan><tspan x="2109" dy="14.7">+ ~BDSAcceleratorComponent()</tspan><tspan x="2109" dy="14.7">+ Initialise()</tspan><tspan x="2109" dy="14.7">+ SetRegion()</tspan><tspan x="2109" dy="14.7">+ SetField()</tspan><tspan x="2109" dy="14.7">+ SetMinimumKineticEnergy()</tspan><tspan x="2109" dy="14.7">+ GetName()</tspan><tspan x="2109" dy="14.7">+ GetAngle()</tspan><tspan x="2109" dy="14.7">+ Sagitta()</tspan><tspan x="2109" dy="14.7">+ GetType()</tspan><tspan x="2109" dy="14.7">and 11 more...</tspan><tspan x="2109" dy="14.7">+ SetBiasVacuumList()</tspan><tspan x="2109" dy="14.7">+ SetBiasMaterialList()</tspan><tspan x="2109" dy="14.7">+ GetArcLength()</tspan><tspan x="2109" dy="14.7">+ GetChordLength()</tspan><tspan x="2109" dy="14.7">+ InputFaceNormal()</tspan><tspan x="2109" dy="14.7">+ OutputFaceNormal()</tspan><tspan x="2109" dy="14.7">+ AngledInputFace()</tspan><tspan x="2109" dy="14.7">+ AngledOutputFace()</tspan><tspan x="2109" dy="14.7">+ GetBiasVacuumList()</tspan><tspan x="2109" dy="14.7">+ GetBiasMaterialList()</tspan><tspan x="2109" dy="14.7">+ SetInputFaceNormal()</tspan><tspan x="2109" dy="14.7">+ SetOutputFaceNormal()</tspan><tspan x="2109" dy="14.7"># Build()</tspan><tspan x="2109" dy="14.7"># BuildContainerLogicalVolume()</tspan><tspan x="2109" dy="14.7"># SetAcceleratorVacuumLogical</tspan><tspan x="2109" dy="14.7">Volume()</tspan><tspan x="2109" dy="14.7"># SetAcceleratorVacuumLogical</tspan><tspan x="2109" dy="14.7">Volume()</tspan><tspan x="2109" dy="14.7"># BuildUserLimits()</tspan><tspan x="2109" dy="14.7"># AttachUserLimits()</tspan><tspan x="2109" dy="14.7">- BDSAcceleratorComponent()</tspan><tspan x="2109" dy="14.7">- operator=()</tspan><tspan x="2109" dy="14.7">- BDSAcceleratorComponent()</tspan><tspan x="2109" dy="14.7">* name</tspan><tspan x="2109" dy="14.7">* arcLength</tspan><tspan x="2109" dy="14.7">* type</tspan><tspan x="2109" dy="14.7">* chordLength</tspan><tspan x="2109" dy="14.7">* angle</tspan><tspan x="2109" dy="14.7">* region</tspan><tspan x="2109" dy="14.7">* lengthSafetyLarge</tspan><tspan x="2109" dy="14.7">* emptyMaterial</tspan><tspan x="2109" dy="14.7">* worldMaterial</tspan><tspan x="2109" dy="14.7">* checkOverlaps</tspan><tspan x="2109" dy="14.7">* sensitiveOuter</tspan><tspan x="2109" dy="14.7">* sensitiveVacuum</tspan><tspan x="2109" dy="14.7">* containerVisAttr</tspan><tspan x="2109" dy="14.7">* SetBiasVacuumList()</tspan><tspan x="2109" dy="14.7">* SetBiasMaterialList()</tspan><tspan x="2109" dy="14.7">* GetArcLength()</tspan><tspan x="2109" dy="14.7">* GetChordLength()</tspan><tspan x="2109" dy="14.7">* InputFaceNormal()</tspan><tspan x="2109" dy="14.7">* OutputFaceNormal()</tspan><tspan x="2109" dy="14.7">* AngledInputFace()</tspan><tspan x="2109" dy="14.7">* AngledOutputFace()</tspan><tspan x="2109" dy="14.7">* GetBiasVacuumList()</tspan><tspan x="2109" dy="14.7">* GetBiasMaterialList()</tspan><tspan x="2109" dy="14.7">* SetInputFaceNormal()</tspan><tspan x="2109" dy="14.7">* SetOutputFaceNormal()</tspan><tspan x="2109" dy="14.7">* operator=()</tspan><tspan x="2109" dy="14.7">* BDSAcceleratorComponent()</tspan></text></g>

<g id="n_BDSTiltOffset" class="n"><rect x="2716" y="4030" width="135" height="296.4"/><path d="M2716 4055.3h135M2716 4110h135"/><text class="m" x="2783.5" y="4047">BDSTiltOffset</text><text x="2725" y="4072.3"><tspan x="2725" dy="0">- dx</tspan><tspan x="2725" dy="14.7">- dy</tspan><tspan x="2725" dy="14.7">- tilt</tspan></text><text x="2725" y="4127"><tspan x="2725" dy="0">+ BDSTiltOffset()</tspan><tspan x="2725" dy="14.7">+ BDSTiltOffset()</tspan><tspan x="2725" dy="14.7">+ GetOffset()</tspan><tspan x="2725" dy="14.7">+ Transform3D()</tspan><tspan x="2725" dy="14.7">+ GetXOffset()</tspan><tspan x="2725" dy="14.7">+ GetYOffset()</tspan><tspan x="2725" dy="14.7">+ GetTilt()</tspan><tspan x="2725" dy="14.7">+ HasFiniteOffset()</tspan><tspan x="2725" dy="14.7">+ HasFiniteTilt()</tspan><tspan x="2725" dy="14.7">* GetXOffset()</tspan><tspan x="2725" dy="14.7">* GetYOffset()</tspan><tspan x="2725" dy="14.7">* GetTilt()</tspan><tspan x="2725" dy="14.7">* HasFiniteOffset()</tspan><tspan x="2725" dy="14.7">* HasFiniteTilt()</tspan></text></g>
<g id="n_set_gc" class="n"><rect x="2875" y="4140" width="215" height="75.9"/><path d="M2875 4165.3h215M2875 4190.6h215"/><text class="m" x="2982.5" y="4157">std::set&lt; BDSGeometryComponent * &gt;</text></g>

<g id="n_BDSSampler" class="n"><rect x="2558" y="4814" width="169" height="267"/><path d="M2558 4839.3h169M2558 4879.3h169"/><text class="m" x="2642.5" y="4831">BDSSampler</text><text x="2567" y="4856.3"><tspan x="2567" dy="0"># name</tspan><tspan x="2567" dy="14.7"># filterSetID</tspan></text><text x="2567" y="4896.3"><tspan x="2567" dy="0">+ BDSSampler()</tspan><tspan x="2567" dy="14.7">+ BDSSampler()</tspan><tspan x="2567" dy="14.7">+ ~BDSSampler()</tspan><tspan x="2567" dy="14.7">+ operator=()</tspan><tspan x="2567" dy="14.7">+ BDSSampler()</tspan><tspan x="2567" dy="14.7">+ GetName()</tspan><tspan x="2567" dy="14.7">+ GetFilterSetID()</tspan><tspan x="2567" dy="14.7"># CommonConstruction()</tspan><tspan x="2567" dy="14.7"># SetSensitivity()</tspan><tspan x="2567" dy="14.7">* operator=()</tspan><tspan x="2567" dy="14.7">* BDSSampler()</tspan><tspan x="2567" dy="14.7">* GetName()</tspan><tspan x="2567" dy="14.7">* GetFilterSetID()</tspan></text></g>

<g id="n_BDSSimpleComponent" class="n"><rect x="2140" y="5635" width="189" height="178.8"/><path d="M2140 5660.3h189M2140 5685.6h189"/><text class="m" x="2234.5" y="5652">BDSSimpleComponent</text><text x="2149" y="5702.6"><tspan x="2149" dy="0">+ BDSSimpleComponent()</tspan><tspan x="2149" dy="14.7">+ BDSSimpleComponent()</tspan><tspan x="2149" dy="14.7">+ ~BDSSimpleComponent()</tspan><tspan x="2149" dy="14.7">+ BDSSimpleComponent()</tspan><tspan x="2149" dy="14.7">+ operator=()</tspan><tspan x="2149" dy="14.7">- BDSSimpleComponent()</tspan><tspan x="2149" dy="14.7">- Build()</tspan><tspan x="2149" dy="14.7">- BuildContainerLogicalVolume()</tspan></text></g>

<g id="n_BDSBeamlineElement" class="n"><rect x="2698" y="5107" width="254" height="1237.2"/><path d="M2698 5132.3h254M2698 5451.6h254"/><text class="m" x="2825" y="5124">BDSBeamlineElement</text><text x="2707" y="5149.3"><tspan x="2707" dy="0">- placementName</tspan><tspan x="2707" dy="14.7">- copyNumber</tspan><tspan x="2707" dy="14.7">- placementTransform</tspan><tspan x="2707" dy="14.7">- placementTransformCL</tspan><tspan x="2707" dy="14.7">- samplerPlacementTransform</tspan><tspan x="2707" dy="14.7">- index</tspan><tspan x="2707" dy="14.7">- positionStart</tspan><tspan x="2707" dy="14.7">- positionMiddle</tspan><tspan x="2707" dy="14.7">- positionEnd</tspan><tspan x="2707" dy="14.7">- rotationStart</tspan><tspan x="2707" dy="14.7">- rotationMiddle</tspan><tspan x="2707" dy="14.7">- rotationEnd</tspan><tspan x="2707" dy="14.7">- referencePositionStart</tspan><tspan x="2707" dy="14.7">- referencePositionMiddle</tspan><tspan x="2707" dy="14.7">- referencePositionEnd</tspan><tspan x="2707" dy="14.7">- referenceRotationStart</tspan><tspan x="2707" dy="14.7">- referenceRotationMiddle</tspan><tspan x="2707" dy="14.7">- referenceRotationEnd</tspan><tspan x="2707" dy="14.7">- sPositionStart</tspan><tspan x="2707" dy="14.7">- sPositionMiddle</tspan><tspan x="2707" dy="14.7">- sPositionEnd</tspan></text><text x="2707" y="5468.6"><tspan x="2707" dy="0">+ BDSBeamlineElement()</tspan><tspan x="2707" dy="14.7">+ BDSBeamlineElement()</tspan><tspan x="2707" dy="14.7">+ operator=()</tspan><tspan x="2707" dy="14.7">+ BDSBeamlineElement()</tspan><tspan x="2707" dy="14.7">+ ~BDSBeamlineElement()</tspan><tspan x="2707" dy="14.7">+ PlaceElement()</tspan><tspan x="2707" dy="14.7">+ GetExtentGlobal()</tspan><tspan x="2707" dy="14.7">+ GetTilt()</tspan><tspan x="2707" dy="14.7">+ UpdateSamplerPlacementTransform()</tspan><tspan x="2707" dy="14.7">+ Overlaps()</tspan><tspan x="2707" dy="14.7">+ GetAcceleratorComponent()</tspan><tspan x="2707" dy="14.7">+ GetName()</tspan><tspan x="2707" dy="14.7">+ GetType()</tspan><tspan x="2707" dy="14.7">+ GetArcLength()</tspan><tspan x="2707" dy="14.7">+ GetChordLength()</tspan><tspan x="2707" dy="14.7">+ GetAngle()</tspan><tspan x="2707" dy="14.7">+ GetBeamPipeInfo()</tspan><tspan x="2707" dy="14.7">+ GetExtent()</tspan><tspan x="2707" dy="14.7">+ GetPlacementName()</tspan><tspan x="2707" dy="14.7">+ GetCopyNo()</tspan><tspan x="2707" dy="14.7">and 23 more...</tspan><tspan x="2707" dy="14.7">+ InputFaceNormal()</tspan><tspan x="2707" dy="14.7">+ OutputFaceNormal()</tspan><tspan x="2707" dy="14.7">+ AngledInputFace()</tspan><tspan x="2707" dy="14.7">+ AngledOutputFace()</tspan><tspan x="2707" dy="14.7">+ SetReferencePositionEnd()</tspan><tspan x="2707" dy="14.7">+ SetReferenceRotationEnd()</tspan><tspan x="2707" dy="14.7">+ GetPVsFromAssembly()</tspan><tspan x="2707" dy="14.7">* positionStart</tspan><tspan x="2707" dy="14.7">* positionMiddle</tspan><tspan x="2707" dy="14.7">* positionEnd</tspan><tspan x="2707" dy="14.7">* rotationStart</tspan><tspan x="2707" dy="14.7">* rotationMiddle</tspan><tspan x="2707" dy="14.7">* rotationEnd</tspan><tspan x="2707" dy="14.7">* referencePositionStart</tspan><tspan x="2707" dy="14.7">* referencePositionMiddle</tspan><tspan x="2707" dy="14.7">* referencePositionEnd</tspan><tspan x="2707" dy="14.7">* referenceRotationStart</tspan><tspan x="2707" dy="14.7">* referenceRotationMiddle</tspan><tspan x="2707" dy="14.7">* referenceRotationEnd</tspan><tspan x="2707" dy="14.7">* sPositionStart</tspan><tspan x="2707" dy="14.7">* sPositionMiddle</tspan><tspan x="2707" dy="14.7">* sPositionEnd</tspan><tspan x="2707" dy="14.7">* GetAcceleratorComponent()</tspan><tspan x="2707" dy="14.7">* GetName()</tspan><tspan x="2707" dy="14.7">* GetType()</tspan><tspan x="2707" dy="14.7">* GetArcLength()</tspan><tspan x="2707" dy="14.7">* GetChordLength()</tspan><tspan x="2707" dy="14.7">* GetAngle()</tspan><tspan x="2707" dy="14.7">* GetBeamPipeInfo()</tspan><tspan x="2707" dy="14.7">* GetExtent()</tspan><tspan x="2707" dy="14.7">* GetPlacementName()</tspan><tspan x="2707" dy="14.7">* GetCopyNo()</tspan><tspan x="2707" dy="14.7">and 23 more...</tspan><tspan x="2707" dy="14.7">* InputFaceNormal()</tspan><tspan x="2707" dy="14.7">* OutputFaceNormal()</tspan><tspan x="2707" dy="14.7">* AngledInputFace()</tspan><tspan x="2707" dy="14.7">* AngledOutputFace()</tspan><tspan x="2707" dy="14.7">* SetReferencePositionEnd()</tspan><tspan x="2707" dy="14.7">* SetReferenceRotationEnd()</tspan></text></g>

<g id="n_BDSSamplerPlacementRecord" class="n g"><rect x="2620" y="6419" width="231" height="472.8"/><path d="M2620 6444.3h231M2620 6543.1h231"/><text class="m" x="2735.5" y="6436">BDSSamplerPlacementRecord</text><text x="2629" y="6461.3"><tspan x="2629" dy="0">- name</tspan><tspan x="2629" dy="14.7">- transform</tspan><tspan x="2629" dy="14.7">- transformInverse</tspan><tspan x="2629" dy="14.7">- sPosition</tspan><tspan x="2629" dy="14.7">- uniqueName</tspan><tspan x="2629" dy="14.7">- radius</tspan></text><text x="2629" y="6560.1"><tspan x="2629" dy="0">+ BDSSamplerPlacementRecord()</tspan><tspan x="2629" dy="14.7">+ BDSSamplerPlacementRecord()</tspan><tspan x="2629" dy="14.7">+ ~BDSSamplerPlacementRecord()</tspan><tspan x="2629" dy="14.7">+ Name()</tspan><tspan x="2629" dy="14.7">+ UniqueName()</tspan><tspan x="2629" dy="14.7">+ Sampler()</tspan><tspan x="2629" dy="14.7">+ Transform()</tspan><tspan x="2629" dy="14.7">+ TransformInverse()</tspan><tspan x="2629" dy="14.7">+ SPosition()</tspan><tspan x="2629" dy="14.7">+ Element()</tspan><tspan x="2629" dy="14.7">+ BeamlineIndex()</tspan><tspan x="2629" dy="14.7">+ Type()</tspan><tspan x="2629" dy="14.7">+ Radius()</tspan><tspan x="2629" dy="14.7">* Name()</tspan><tspan x="2629" dy="14.7">* UniqueName()</tspan><tspan x="2629" dy="14.7">* Sampler()</tspan><tspan x="2629" dy="14.7">* Transform()</tspan><tspan x="2629" dy="14.7">* TransformInverse()</tspan><tspan x="2629" dy="14.7">* SPosition()</tspan><tspan x="2629" dy="14.7">* Element()</tspan><tspan x="2629" dy="14.7">* BeamlineIndex()</tspan><tspan x="2629" dy="14.7">* Type()</tspan><tspan x="2629" dy="14.7">* Radius()</tspan></text></g>

<g id="n_BDSSamplerInfo" class="n"><rect x="2875" y="6580" width="148" height="149.4"/><path d="M2875 6605.3h148M2875 6645.3h148"/><text class="m" x="2949" y="6597">BDSSamplerInfo</text><text x="2884" y="6622.3"><tspan x="2884" dy="0">+ name</tspan><tspan x="2884" dy="14.7">+ pdgSetID</tspan></text><text x="2884" y="6662.3"><tspan x="2884" dy="0">+ BDSSamplerInfo()</tspan><tspan x="2884" dy="14.7">+ BDSSamplerInfo()</tspan><tspan x="2884" dy="14.7">+ ~BDSSamplerInfo()</tspan><tspan x="2884" dy="14.7">+ BDSSamplerInfo()</tspan><tspan x="2884" dy="14.7">+ operator=()</tspan></text></g>

<g id="n_map_samplertypes" class="n"><rect x="3207" y="6602" width="204" height="105.3"/><path d="M3207 6656.7h204M3207 6682h204"/><text x="3214" y="6619">std::map&lt; BDSTypeSafeEnum</text><text x="3214" y="6633.7">&lt; samplertypes_def, int</text><text class="m" x="3309" y="6648.4">&gt;, std::string &gt;</text></g>
<g id="n_tse_samplertypes" class="n"><rect x="3111" y="5610" width="229" height="222.9"/><path d="M3111 5650h229M3111 5675.3h229"/><text x="3118" y="5627">BDSTypeSafeEnum&lt; samplertypes</text><text class="m" x="3225.5" y="5641.7">_def, int &gt;</text><text x="3120" y="5667">- val</text><text x="3120" y="5692.3"><tspan x="3120" dy="0">+ BDSTypeSafeEnum()</tspan><tspan x="3120" dy="14.7">+ BDSTypeSafeEnum()</tspan><tspan x="3120" dy="14.7">+ underlying()</tspan><tspan x="3120" dy="14.7">+ ToString()</tspan><tspan x="3120" dy="14.7">* operator==</tspan><tspan x="3120" dy="14.7">* operator!=</tspan><tspan x="3120" dy="14.7">* operator&lt;</tspan><tspan x="3120" dy="14.7">* operator&lt;=</tspan><tspan x="3120" dy="14.7">* operator&gt;</tspan><tspan x="3120" dy="14.7">* operator&gt;=</tspan></text></g>
<g id="n_samplertypes_def" class="n"><rect x="3330" y="5420" width="125" height="75.9"/><path d="M3330 5445.3h125M3330 5470.6h125"/><text class="m" x="3392.5" y="5437">samplertypes_def</text></g>
</svg>
